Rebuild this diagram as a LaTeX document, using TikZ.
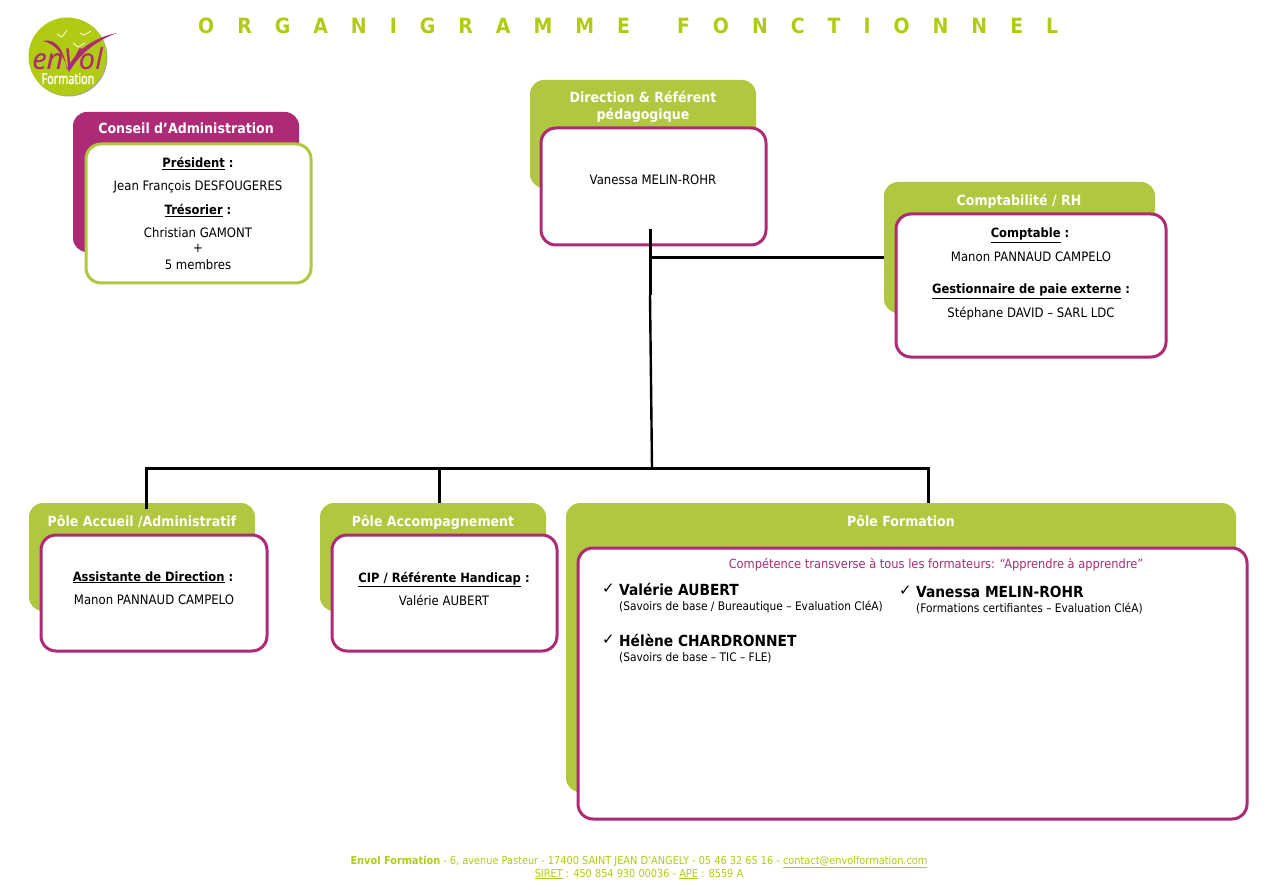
\documentclass[tikz,border=0pt]{standalone}
\usepackage{fontspec}
\setmainfont[FakeStretch=.9]{DejaVu Sans}
\newfontfamily\logofont{Noto Sans}
\newfontfamily\namefont[FakeStretch=.72,FakeBold=1.6]{Noto Sans}
\newfontfamily\checkfont{DejaVu Sans}
\definecolor{envolgreen}{HTML}{AFC83F}
\definecolor{titlegreen}{HTML}{B1CB12}
\definecolor{envolpink}{HTML}{AD2A75}
\begin{document}
\begin{tikzpicture}[x=1pt, y=-1pt,
    tab/.style n args={3}{fill=#1, minimum width=#2pt, minimum height=#3pt,
      rounded corners=14pt, anchor=north west, inner sep=0pt, outer sep=0pt},
    frame/.style n args={3}{draw=#1, fill=white, minimum width=#2pt, minimum height=#3pt,
      line width=3pt, rounded corners=15pt, anchor=north west, inner sep=0pt, outer sep=0pt},
    head/.style={anchor=base, white, inner sep=0pt, font=\fontsize{14}{16}\selectfont\bfseries},
    body/.style={anchor=base, inner sep=0pt, font=\fontsize{13}{15}\selectfont},
    role/.style={anchor=base, inner sep=0pt, font=\fontsize{12.8}{14}\selectfont\bfseries},
    trainer/.style={anchor=base west, inner sep=0pt, font=\fontsize{15.3}{17}\selectfont\bfseries},
    topic/.style={anchor=base west, inner sep=0pt, font=\fontsize{11.8}{13}\selectfont},
    tick/.style={anchor=base west, inner sep=0pt, font=\fontsize{15}{16}\selectfont\checkfont},
    foot/.style={anchor=base, titlegreen, inner sep=0pt, font=\fontsize{10.85}{12}\selectfont},
    link/.style={line width=3pt}
  ]
  \useasboundingbox (0,0) rectangle (1281,890);

  % Logo
  \fill[black!35] (68.5,57.5) circle (39);
  \fill[titlegreen] (67.5,56.5) circle (39);
  \node[anchor=base, envolpink, text depth=0pt, inner sep=0pt,
    font=\fontsize{29}{29}\selectfont\logofont\itshape] (logotext) at (67.5,70) {enVol};
  \fill[envolpink] (43,41) .. controls (52,39) and (63,43) .. (67,70)
    .. controls (74,52) and (92,38) .. (117,33)
    .. controls (95,41) and (78,56) .. (69,72)
    .. controls (62,52) and (55,44) .. (43,41) -- cycle;
  \draw[white, line width=.8pt] (57,34) -- (62,37) -- (67,30)
    (80,33) -- (84,35) -- (91,31) (73,43) -- (78,47) -- (85,43);
  \node[anchor=base, white, inner sep=0pt, font=\fontsize{15}{15}\selectfont\namefont]
    (logoname) at (68,84) {Formation};

  % Title
  \node[anchor=base west, titlegreen, inner sep=0pt, font=\fontsize{21}{23}\selectfont\bfseries]
    (title) at (198,34) {\spaceskip=23pt O R G A N I G R A M M E\hspace{24pt} F O N C T I O N N E L};

  % The tabs and the boxes in front of them
  \node[tab={envolpink}{226}{140}] (conseiltab) at (73,112) {};
  \node[frame={envolgreen}{225}{139}] (conseil) at (86,144) {};
  \node[tab={envolgreen}{226}{108}] (directiontab) at (530,80) {};
  \node[frame={envolpink}{225}{117}] (direction) at (541,128) {};
  \node[tab={envolgreen}{271}{131}] (comptatab) at (884,182) {};
  \node[frame={envolpink}{270}{143}] (compta) at (896,214) {};
  \node[tab={envolgreen}{226}{108}] (accueiltab) at (29,503) {};
  \node[frame={envolpink}{226}{116}] (accueil) at (41,535) {};
  \node[tab={envolgreen}{226}{108}] (accomptab) at (320,503) {};
  \node[frame={envolpink}{225}{116}] (accomp) at (332,535) {};
  \node[tab={envolgreen}{670}{289}] (formationtab) at (566,503) {};
  \node[frame={envolpink}{669}{271}] (formation) at (578,548) {};

  % Links
  \coordinate (top) at (650,229);
  \coordinate (branch) at (650,258);
  \coordinate (joint) at (650,295);
  \coordinate (bus) at (652,468);
  \coordinate (busleft) at (146.5,468);
  \coordinate (busmid) at (439,468);
  \coordinate (busright) at (928,468);
  \draw[link] (top) -- (joint);
  \draw[link, line width=2.4pt] (joint) -- (bus);
  \draw[link] (branch) -- (comptatab.west |- branch);
  \draw[link] (146.5,509) -- (busleft) -- (busright) -- (busright |- formationtab.north);
  \draw[link] (busmid) -- (busmid |- accomptab.north);

  % Conseil
  \node[head] (conseilhead) at (186,134) {Conseil d’Administration};
  \node[role] (president) at (198,168) {\underline{Président} :};
  \node[body] (presidentname) at (198,191) {Jean François DESFOUGERES};
  \node[role] (tresorier) at (198,215) {\underline{Trésorier} :};
  \node[body] (tresoriername) at (198,238) {Christian GAMONT};
  \node[body] (plus) at (198,253) {+};
  \node[body] (membres) at (198,270) {5 membres};

  % Direction
  \node[head] (directionhead) at (643,103) {Direction \& Référent};
  \node[head] (directionhead2) at (643,120) {pédagogique};
  \node[body] (directionname) at (653,185) {Vanessa MELIN-ROHR};

  % Comptabilite
  \node[head] (comptahead) at (1019,206) {Comptabilité / RH};
  \node[role] (comptable) at (1030,238) {\underline{Comptable} :};
  \node[body] (comptablename) at (1031,262) {Manon PANNAUD CAMPELO};
  \node[role] (paie) at (1031,294) {\underline{Gestionnaire de paie externe} :};
  \node[body] (paiename) at (1031,317) {Stéphane DAVID – SARL LDC};

  % Poles
  \node[head] (accueilhead) at (142,526) {Pôle Accueil /Administratif};
  \node[role] (assistante) at (153,581) {\underline{Assistante de Direction} :};
  \node[body] (assistantename) at (154,604) {Manon PANNAUD CAMPELO};
  \node[head] (accomphead) at (433,526) {Pôle Accompagnement};
  \node[role] (cip) at (444,582) {\underline{CIP / Référente Handicap} :};
  \node[body] (cipname) at (444,605) {Valérie AUBERT};
  \node[head] (formationhead) at (901,526) {Pôle Formation};

  % Formateurs
  \node[body, envolpink, font=\fontsize{12.7}{15}\selectfont] (transverse) at (936,568) {Compétence transverse à tous les formateurs: “Apprendre à apprendre”};
  \node[tick] (tick1) at (602,593) {✓};
  \node[trainer] (aubert) at (619,595) {Valérie AUBERT};
  \node[topic] (aubertdetail) at (619,610) {(Savoirs de base / Bureautique – Evaluation CléA)};
  \node[tick] (tick2) at (899,595) {✓};
  \node[trainer] (melin) at (916,597) {Vanessa MELIN-ROHR};
  \node[topic] (melindetail) at (916,612) {(Formations certifiantes – Evaluation CléA)};
  \node[tick] (tick3) at (602,644) {✓};
  \node[trainer] (chardronnet) at (619,646) {Hélène CHARDRONNET};
  \node[topic] (chardronnetdetail) at (619,661) {(Savoirs de base – TIC – FLE)};

  % Footer
  \node[foot] (footer1) at (639,864) {\textbf{Envol Formation} - 6, avenue Pasteur - 17400 SAINT JEAN D’ANGELY - 05 46 32 65 16 - \underline{contact@envolformation.com}};
  \node[foot] (footer2) at (639,877) {\underline{SIRET} : 450 854 930 00036 - \underline{APE} : 8559 A};
\end{tikzpicture}
\end{document}
